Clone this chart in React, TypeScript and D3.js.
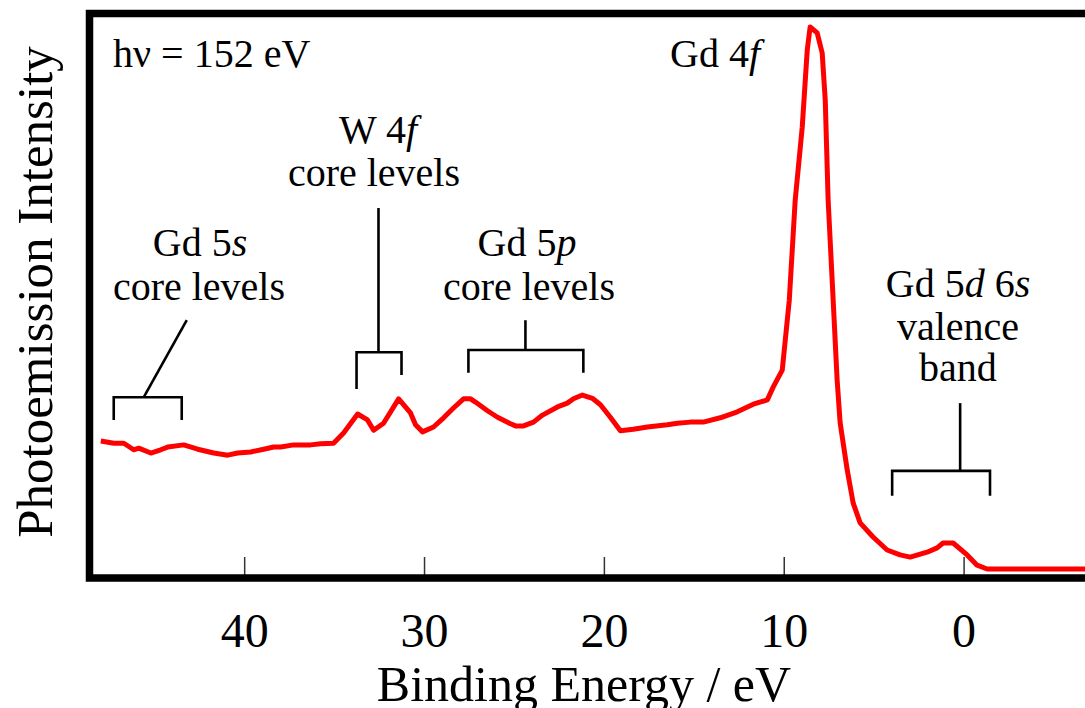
import React from "react";
import * as d3 from "d3";

// Binding energy (eV) and photoemission intensity (arb. units)
const energy = [
  48.0, 47.28, 46.72, 46.17, 45.89, 45.22, 44.67, 44.28, 43.39, 42.61, 41.72, 40.94, 40.39, 39.67,
  38.94, 38.39, 38.0, 37.28, 36.33, 35.78, 35.06, 34.5, 33.72, 33.17, 32.83, 32.28, 31.44, 30.78,
  30.5, 30.11, 29.5, 28.94, 28.39, 27.83, 27.44, 27.17, 26.5, 25.94, 25.22, 24.94, 24.5, 23.94,
  23.44, 22.61, 22.06, 21.72, 21.22, 20.67, 20.22, 19.67, 19.11, 18.39, 17.61, 16.5, 15.94, 15.22,
  14.5, 13.56, 12.61, 11.72, 10.94, 10.61, 10.11, 9.72, 9.39, 9.0, 8.72, 8.56, 8.17, 7.89, 7.72,
  7.56, 7.28, 7.06, 6.89, 6.5, 6.17, 5.78, 5.06, 4.28, 3.56, 3.0, 2.06, 1.5, 1.17, 0.61, -0.17,
  -0.72, -1.28, -7.0,
];
const intensity = [
  23.6, 23.2, 23.2, 22.0, 22.3, 21.4, 22.0, 22.5, 22.9, 22.1, 21.4, 21.0, 21.4, 21.6,
  22.1, 22.5, 22.5, 22.9, 22.9, 23.1, 23.2, 25.1, 28.6, 27.5, 25.6, 26.9, 31.4, 28.8,
  26.6, 25.3, 26.2, 27.9, 29.7, 31.4, 31.4, 30.8, 29.2, 28.0, 26.8, 26.4, 26.4, 27.1,
  28.4, 29.9, 30.6, 31.4, 32.1, 31.5, 30.3, 28.0, 25.5, 25.8, 26.2, 26.6, 26.9, 27.1,
  27.1, 27.9, 29.0, 30.4, 31.2, 33.6, 36.7, 49.6, 68.1, 81.5, 95.8, 100.0, 98.9, 95.2, 86.5,
  68.1, 49.6, 34.9, 26.9, 18.3, 12.2, 8.5, 5.9, 3.5, 2.6, 2.2, 3.1, 3.9, 4.8, 4.8, 2.6,
  0.7, 0.0, 0.0,
];
const tickValues = [40, 30, 20, 10, 0];

// bracket annotations: energy range, bar level, end level (intensity units)
const bracketNames = ["Gd 5s", "W 4f", "Gd 5p", "Gd 5d 6s"];
const bracketFrom = [47.28, 33.78, 27.56, 4.0];
const bracketTo = [43.5, 31.28, 21.17, -1.44];
const bracketBar = [31.7, 40.0, 40.4, 18.1];
const bracketEndFrom = [27.5, 33.2, 36.2, 13.5];
const bracketEndTo = [27.5, 35.8, 36.2, 13.5];

const W = 1085;
const H = 708;
const FONT = "'Liberation Serif', 'DejaVu Serif', serif";

export default function App() {
  const x = d3.scaleLinear().domain([48.6, -7]).range([90, 1090]);
  const y = d3.scaleLinear().domain([0, 100]).range([569, 27]);
  const pts = energy.map((e, i) => [e, intensity[i]] as [number, number]);
  const line = d3
    .line<[number, number]>()
    .x((d) => x(d[0]))
    .y((d) => y(d[1]));

  const bk = "#000";
  const sw = 2.6;

  const brackets = bracketNames.map((name, i) => {
    const x1 = x(bracketFrom[i]);
    const x2 = x(bracketTo[i]);
    const yb = y(bracketBar[i]);
    return (
      <path
        key={name}
        d={`M${x1},${y(bracketEndFrom[i])}V${yb}H${x2}V${y(bracketEndTo[i])}`}
        stroke={bk}
        strokeWidth={sw}
        fill="none"
        strokeLinejoin="miter"
      />
    );
  });

  const stems = [
    <line key="s0" x1={x(45.61)} y1={y(31.7)} x2={x(43.22)} y2={y(45.9)} stroke={bk} strokeWidth={sw} />,
    <line key="s1" x1={x(32.56)} y1={y(40.0)} x2={x(32.56)} y2={y(66.6)} stroke={bk} strokeWidth={sw} />,
    <line key="s2" x1={x(24.39)} y1={y(40.4)} x2={x(24.39)} y2={y(45.9)} stroke={bk} strokeWidth={sw} />,
    <line key="s3" x1={x(0.22)} y1={y(18.1)} x2={x(0.22)} y2={y(30.6)} stroke={bk} strokeWidth={sw} />,
  ];

  const annFs = 40;

  return (
    <svg
      width={W}
      height={H}
      style={{ position: "absolute", left: 0, top: 0, background: "#fff" }}
      fontFamily={FONT}
    >
      <rect x={0} y={0} width={W} height={H} fill="#fff" />
      {tickValues.map((t) => (
        <line key={t} x1={x(t)} x2={x(t)} y1={557} y2={575} stroke="#333" strokeWidth={1.5} />
      ))}
      <path d={line(pts) || ""} fill="none" stroke="#ff0000" strokeWidth={5} strokeLinejoin="round" />
      <rect x={89.5} y={13.5} width={1100} height={564.5} fill="none" stroke="#000" strokeWidth={7.5} />
      {brackets}
      {stems}
      {tickValues.map((t) => (
        <text key={"l" + t} x={x(t)} y={647} textAnchor="middle" fontSize={48} fill="#000">
          {t}
        </text>
      ))}
      <text x={584} y={701} textAnchor="middle" fontSize={50} fill="#000">
        Binding Energy  /  eV
      </text>
      <text transform="translate(52,292) rotate(-90)" textAnchor="middle" fontSize={51} fill="#000">
        Photoemission Intensity
      </text>
      <g fontSize={annFs} fill="#000">
        <text x={113} y={67}>hν = 152 eV</text>
        <text x={670} y={67}>
          Gd 4<tspan fontStyle="italic">f</tspan>
        </text>
        <text x={378} y={143} textAnchor="middle">
          W 4<tspan fontStyle="italic">f</tspan>
        </text>
        <text x={374} y={186} textAnchor="middle">core levels</text>
        <text x={200} y={256} textAnchor="middle">
          Gd 5<tspan fontStyle="italic">s</tspan>
        </text>
        <text x={199} y={300} textAnchor="middle">core levels</text>
        <text x={527} y={256} textAnchor="middle">
          Gd 5<tspan fontStyle="italic">p</tspan>
        </text>
        <text x={529} y={300} textAnchor="middle">core levels</text>
        <text x={958} y={297} textAnchor="middle">
          Gd 5<tspan fontStyle="italic">d</tspan> 6<tspan fontStyle="italic">s</tspan>
        </text>
        <text x={958} y={340} textAnchor="middle">valence</text>
        <text x={958} y={381} textAnchor="middle">band</text>
      </g>
    </svg>
  );
}
